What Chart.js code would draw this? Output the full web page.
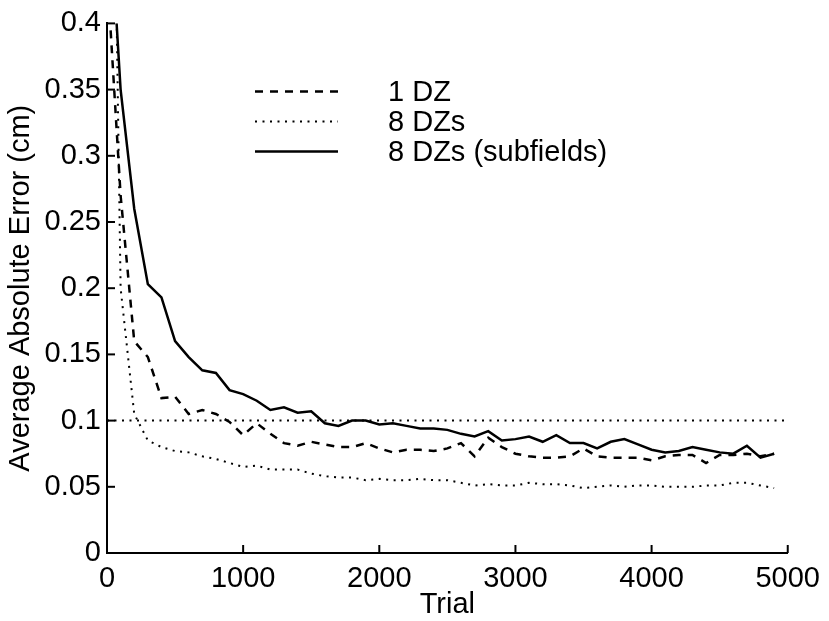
<!DOCTYPE html>
<html>
<head>
<meta charset="utf-8">
<script src="https://cdn.jsdelivr.net/npm/chart.js@4/dist/chart.umd.min.js"></script>
<style>
  html, body { margin: 0; padding: 0; background: #fff; }
  #wrap { width: 829px; height: 621px; }
</style>
</head>
<body>
<div id="wrap"><canvas id="chart" width="829" height="621"></canvas></div>
<script>
// ==== Data ====
const trials = [0, 100, 200, 300, 400, 500, 600, 700, 800, 900,
  1000, 1100, 1200, 1300, 1400, 1500, 1600, 1700, 1800, 1900,
  2000, 2100, 2200, 2300, 2400, 2500, 2600, 2700, 2800, 2900,
  3000, 3100, 3200, 3300, 3400, 3500, 3600, 3700, 3800, 3900,
  4000, 4100, 4200, 4300, 4400, 4500, 4600, 4700, 4800, 4900];

const oneDZ = [0.44, 0.27, 0.16, 0.148, 0.117, 0.118, 0.105, 0.108, 0.105, 0.099,
  0.089, 0.098, 0.09, 0.083, 0.081, 0.084, 0.082, 0.08, 0.08, 0.083,
  0.079, 0.076, 0.078, 0.078, 0.077, 0.079, 0.083, 0.073, 0.087, 0.08,
  0.075, 0.073, 0.072, 0.072, 0.073, 0.079, 0.073, 0.072, 0.072, 0.072,
  0.07, 0.073, 0.074, 0.074, 0.068, 0.074, 0.074, 0.075, 0.073, 0.075];

const eightDZ = [0.9, 0.2, 0.105, 0.085, 0.08, 0.077, 0.076, 0.073, 0.071, 0.068,
  0.065, 0.066, 0.063, 0.063, 0.063, 0.06, 0.058, 0.057, 0.057, 0.055,
  0.056, 0.055, 0.055, 0.056, 0.055, 0.055, 0.053, 0.051, 0.052, 0.051,
  0.051, 0.053, 0.052, 0.052, 0.051, 0.049, 0.05, 0.051, 0.05, 0.051,
  0.051, 0.05, 0.05, 0.05, 0.051, 0.051, 0.053, 0.053, 0.051, 0.049];

const eightDZSub = [0.52, 0.35, 0.26, 0.203, 0.193, 0.16, 0.148, 0.138, 0.136, 0.123,
  0.12, 0.115, 0.108, 0.11, 0.106, 0.107, 0.098, 0.096, 0.1, 0.1,
  0.097, 0.098, 0.096, 0.094, 0.094, 0.093, 0.09, 0.088, 0.092, 0.085,
  0.086, 0.088, 0.084, 0.089, 0.083, 0.083, 0.079, 0.084, 0.086, 0.082,
  0.078, 0.076, 0.077, 0.08, 0.078, 0.076, 0.075, 0.081, 0.072, 0.075];

const refTrials = [0, 5000];
const refLevel = [0.1, 0.1];

const xTicks = [0, 1000, 2000, 3000, 4000, 5000];
const yTicks = [0, 0.05, 0.1, 0.15, 0.2, 0.25, 0.3, 0.35, 0.4];
const yTickLabels = ["0", "0.05", "0.1", "0.15", "0.2", "0.25", "0.3", "0.35", "0.4"];

const seriesNames = ["1 DZ", "8 DZs", "8 DZs (subfields)"];

// ==== helpers ====
const FONT = "'Liberation Sans', Arial, Helvetica, sans-serif";
const pts = (xs, ys) => xs.map((x, i) => ({ x: x, y: ys[i] }));

const styles = [
  { dash: [8, 7], width: 2.5 },
  { dash: [2, 5.5], width: 2 },
  { dash: [], width: 2.5 }
];

// inward tick marks + legend, drawn on top of the chart
const extras = {
  id: "extras",
  afterDraw(chart) {
    const ctx = chart.ctx;
    const xs = chart.scales.x, ys = chart.scales.y;
    const area = chart.chartArea;
    ctx.save();
    ctx.strokeStyle = "#000";
    ctx.lineWidth = 2;
    ctx.setLineDash([]);
    ys.ticks.forEach(t => {
      const y = ys.getPixelForValue(t.value);
      ctx.beginPath();
      ctx.moveTo(area.left, y);
      ctx.lineTo(area.left + 8, y);
      ctx.stroke();
    });
    xs.ticks.forEach(t => {
      const x = xs.getPixelForValue(t.value);
      ctx.beginPath();
      ctx.moveTo(x, area.bottom);
      ctx.lineTo(x, area.bottom - 8);
      ctx.stroke();
    });

    // legend
    const rows = [91.5, 121.5, 151.5];
    ctx.font = "29px " + FONT;
    ctx.fillStyle = "#000";
    ctx.textBaseline = "middle";
    ctx.textAlign = "left";
    seriesNames.forEach((name, i) => {
      ctx.lineWidth = styles[i].width;
      ctx.setLineDash(styles[i].dash);
      ctx.beginPath();
      ctx.moveTo(255, rows[i]);
      ctx.lineTo(338, rows[i]);
      ctx.stroke();
      ctx.fillText(name, 388, rows[i] + 1);
    });
    ctx.restore();
  }
};

const mkSet = (data, st) => ({
  data: data,
  borderColor: "#000",
  borderWidth: st.width,
  borderDash: st.dash,
  pointRadius: 0,
  tension: 0,
  fill: false
});

new Chart(document.getElementById("chart"), {
  type: "line",
  data: {
    datasets: [
      mkSet(pts(trials, oneDZ), styles[0]),
      mkSet(pts(trials, eightDZ), styles[1]),
      mkSet(pts(trials, eightDZSub), styles[2]),
      mkSet(pts(refTrials, refLevel), styles[1])
    ]
  },
  options: {
    responsive: false,
    animation: false,
    events: [],
    layout: { padding: { top: 16, right: 39, bottom: 0, left: 0 } },
    plugins: { legend: { display: false }, tooltip: { enabled: false } },
    scales: {
      x: {
        type: "linear",
        min: 0,
        max: 5000,
        afterBuildTicks: s => { s.ticks = xTicks.map(v => ({ value: v })); },
        afterFit: s => { s.height = 68; },
        grid: { display: false, drawTicks: false },
        border: { display: true, color: "#000", width: 2 },
        ticks: {
          color: "#000",
          padding: 9,
          maxRotation: 0,
          autoSkip: false,
          font: { family: FONT, size: 29 },
          callback: v => String(v)
        },
        title: {
          display: true,
          text: "Trial",
          color: "#000",
          padding: 0,
          font: { family: FONT, size: 29, lineHeight: 1.1 }
        }
      },
      y: {
        type: "linear",
        min: 0,
        max: 0.4,
        afterBuildTicks: s => { s.ticks = yTicks.map(v => ({ value: v })); },
        afterFit: s => { s.width = 107; },
        grid: { display: false, drawTicks: false },
        border: { display: true, color: "#000", width: 2 },
        ticks: {
          color: "#000",
          padding: 6,
          autoSkip: false,
          font: { family: FONT, size: 29 },
          callback: (v, i) => yTickLabels[i]
        },
        title: {
          display: true,
          text: "Average Absolute Error (cm)",
          color: "#000",
          padding: 4,
          font: { family: FONT, size: 29 }
        }
      }
    }
  },
  plugins: [extras]
});
</script>
</body>
</html>
